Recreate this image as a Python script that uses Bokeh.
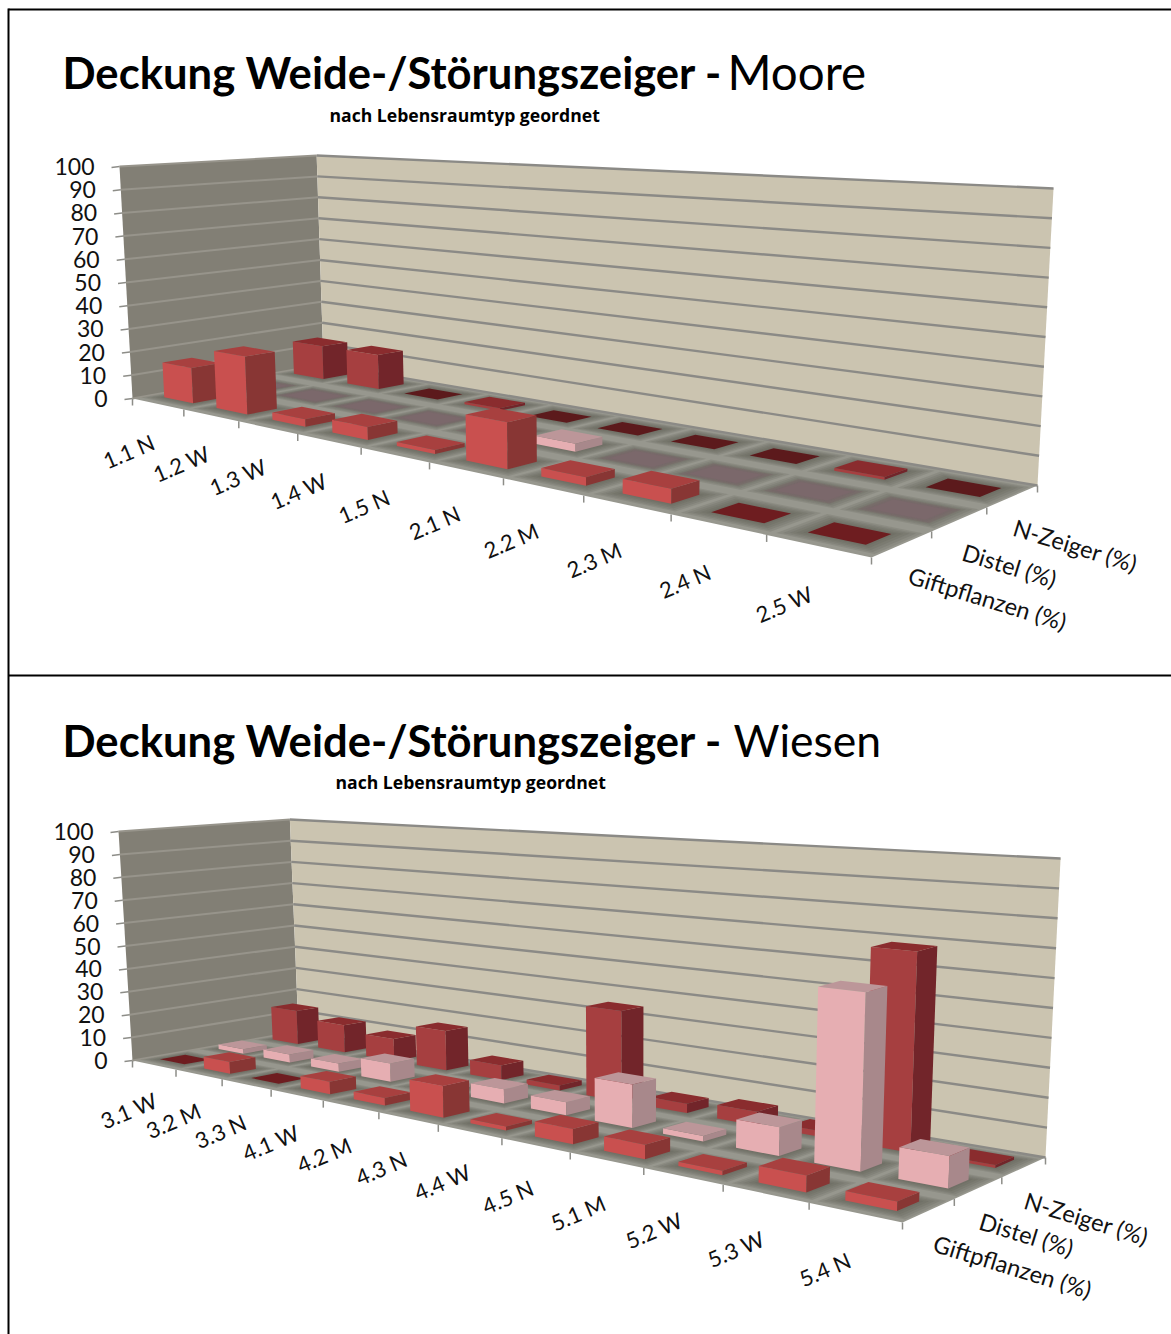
from bokeh.plotting import figure
from bokeh.models import ColumnDataSource
from bokeh.core.properties import value
from bokeh.embed import file_html
from bokeh.resources import INLINE
import math

# Moore
moore_categories = ["1.1 N", "1.2 W", "1.3 W", "1.4 W", "1.5 N", "2.1 N", "2.2 M", "2.3 M", "2.4 N", "2.5 W"]
moore_gift = [15, 24, 3, 5, 1.5, 17, 3, 5, 0, 0]
moore_distel = [0, 0, 0, 0, 0, 3, 0, 0, 0, 0]
moore_nzeiger = [15, 15, 0, 1, 0, 0, 0, 0, 1, 0]

# Wiesen
wiesen_categories = ["3.1 W", "3.2 M", "3.3 N", "4.1 W", "4.2 M", "4.3 N", "4.4 W", "4.5 N", "5.1 M", "5.2 W", "5.3 W", "5.4 N"]
wiesen_gift = [0, 5, 0, 5, 3, 12, 1.5, 5.5, 5, 1.5, 5.5, 3]
wiesen_distel = [2, 3.5, 3.5, 7.5, 2, 5.5, 5, 16, 2, 10, 60, 10.5]
wiesen_nzeiger = [15, 12, 9.5, 16.5, 6, 2, 35, 3.5, 5, 2, 69, 1]

series_labels = ["Giftpflanzen (%)", "Distel (%)", "N-Zeiger (%)"]
value_ticks = [0, 10, 20, 30, 40, 50, 60, 70, 80, 90, 100]

FONT = value("Lato")
FLOOR = "#97978e"
LEFT_WALL = "#827f75"
BACK_WALL = "#cbc4b0"
# (front face, side face, top face, colour of a zero-height footprint)
SERIES_COLORS = [
    ("#c9504f", "#883634", "#a8403f", "#6e1d20"),
    ("#e6aeb2", "#a8888b", "#bc9699", "#7b686b"),
    ("#a63f40", "#72252a", "#8a2c2e", "#5c1a1c"),
]


def reparam(t, r):
    return t / (t * (1 - r) + r)


class Projection:
    """Maps (category position, series position, percent) to page coordinates."""

    def __init__(self, fl, fr, br, bl, ncat, r_front, r_back, r_depth, h_fl, h_bl, h_br, k, xc):
        self.fl, self.fr, self.br, self.bl = fl, fr, br, bl
        self.ncat = ncat
        self.r_front, self.r_back, self.r_depth = r_front, r_back, r_depth
        self.h_fl, self.h_bl, self.h_br = h_fl, h_bl, h_br
        self.h_fr = h_br * h_fl / h_bl
        self.k, self.xc = k, xc

    def __call__(self, u, v, z=0.0):
        f = reparam(max(v, 1e-6) / 3.0, self.r_depth) if v > 0 else v / 3.0 / self.r_depth
        t = u / self.ncat
        sf = reparam(t, self.r_front) if u > 0 else t / self.r_front
        sb = reparam(t, self.r_back) if u > 0 else t / self.r_back
        fx = self.fl[0] + sf * (self.fr[0] - self.fl[0])
        fy = self.fl[1] + sf * (self.fr[1] - self.fl[1])
        bx = self.bl[0] + sb * (self.br[0] - self.bl[0])
        by = self.bl[1] + sb * (self.br[1] - self.bl[1])
        x = fx + f * (bx - fx)
        y = fy + f * (by - fy)
        s = sf + f * (sb - sf)
        hf = self.h_fl + s * (self.h_fr - self.h_fl)
        hb = self.h_bl + s * (self.h_br - self.h_bl)
        h = (hf + f * (hb - hf)) * z / 100.0
        return x + (x - self.xc) * self.k * h, y - h


def footprint(proj, u0, u1, v0, v1, z=0.0):
    pts = [proj(u0, v0, z), proj(u1, v0, z), proj(u1, v1, z), proj(u0, v1, z)]
    return [q[0] for q in pts], [q[1] for q in pts]


class Patches:
    def __init__(self):
        self.xs, self.ys, self.color, self.alpha = [], [], [], []

    def add(self, poly, color, alpha=1.0):
        self.xs.append(poly[0])
        self.ys.append(poly[1])
        self.color.append(color)
        self.alpha.append(alpha)


def draw_chart(p, proj, categories, series, title_y, title_word, word_x, word_size, sub_x, sub_y, label_off, series_pos):
    ncat = len(categories)
    shapes = Patches()
    shapes.add(footprint(proj, 0, ncat, 0, 3), FLOOR)
    shapes.add(([proj(0, 0, 0)[0], proj(0, 3, 0)[0], proj(0, 3, 100)[0], proj(0, 0, 100)[0]],
                [proj(0, 0, 0)[1], proj(0, 3, 0)[1], proj(0, 3, 100)[1], proj(0, 0, 100)[1]]), LEFT_WALL)
    shapes.add(([proj(0, 3, 0)[0], proj(ncat, 3, 0)[0], proj(ncat, 3, 100)[0], proj(0, 3, 100)[0]],
                [proj(0, 3, 0)[1], proj(ncat, 3, 0)[1], proj(ncat, 3, 100)[1], proj(0, 3, 100)[1]]), BACK_WALL)

    gu, gv = 0.22, 0.29
    # Soft darker halo on the floor around every cell's footprint
    for v in range(3):
        for u in range(ncat):
            for grow in (0.19, 0.15, 0.11, 0.07, 0.03):
                shapes.add(footprint(proj, u + gu - grow, u + 1 - gu + grow, v + gv - grow, v + 1 - gv + grow),
                           "#5f5f55", 0.2)

    for v in (2, 1, 0):
        face, side, top, flat = SERIES_COLORS[v]
        for u in range(ncat):
            z = series[v][u]
            u0, u1, v0, v1 = u + gu, u + 1 - gu, v + gv, v + 1 - gv
            if z <= 0:
                if v == 1:
                    for grow in (0.08, 0.05, 0.02):
                        shapes.add(footprint(proj, u0 - grow, u1 + grow, v0 - grow, v1 + grow), flat, 0.45)
                shapes.add(footprint(proj, u0, u1, v0, v1), flat)
                continue
            a, b = proj(u0, v0, 0), proj(u1, v0, 0)
            c, d = proj(u1, v0, z), proj(u0, v0, z)
            shapes.add(([a[0], b[0], c[0], d[0]], [a[1], b[1], c[1], d[1]]), face)
            a, b = proj(u1, v0, 0), proj(u1, v1, 0)
            c, d = proj(u1, v1, z), proj(u1, v0, z)
            shapes.add(([a[0], b[0], c[0], d[0]], [a[1], b[1], c[1], d[1]]), side)
            shapes.add(footprint(proj, u0, u1, v0, v1, z), top)

    # Walls and floor come first, gridlines are drawn over the walls, bars over the gridlines
    n_base = 3
    base = ColumnDataSource(dict(xs=shapes.xs[:n_base], ys=shapes.ys[:n_base], c=shapes.color[:n_base]))
    p.patches("xs", "ys", source=base, fill_color="c", line_color=None)

    back_x, back_y, left_x, left_y = [], [], [], []
    for z in value_ticks:
        a, b, c = proj(0, 0, z), proj(0, 3, z), proj(ncat, 3, z)
        left_x.append([a[0], b[0]])
        left_y.append([a[1], b[1]])
        back_x.append([b[0], c[0]])
        back_y.append([b[1], c[1]])
    p.multi_line(left_x, left_y, line_color="#97948b", line_width=2)
    p.multi_line(back_x, back_y, line_color="#8b8a86", line_width=2.4)

    rest = ColumnDataSource(dict(xs=shapes.xs[n_base:], ys=shapes.ys[n_base:],
                                 c=shapes.color[n_base:], al=shapes.alpha[n_base:]))
    p.patches("xs", "ys", source=rest, fill_color="c", fill_alpha="al", line_color=None)

    # Tick marks
    tx, ty = [], []
    for z in value_ticks:
        a = proj(0, 0, z)
        tx.append([a[0] - 8, a[0]])
        ty.append([a[1] + 1, a[1]])
    for u in range(ncat + 1):
        a = proj(u, 0, 0)
        tx.append([a[0], a[0]])
        ty.append([a[1], a[1] + 7])
    for v in range(1, 4):
        a = proj(ncat, v, 0)
        tx.append([a[0], a[0]])
        ty.append([a[1], a[1] + 7])
    p.multi_line(tx, ty, line_color="#8d8d88", line_width=1.5)

    # Percent scale
    vx = [proj(0, 0, z)[0] - 25 for z in value_ticks]
    vy = [proj(0, 0, z)[1] for z in value_ticks]
    p.text(vx, vy, text=[str(z) for z in value_ticks], text_font=FONT, text_font_size="23px",
           text_color="#111111", text_align="right", text_baseline="middle")

    # Category labels
    cx, cy = [], []
    for u in range(ncat):
        a = proj(u + 0.5, 0, 0)
        grow = (a[0] - proj(0, 0, 0)[0]) / 740.0
        cx.append(a[0] + label_off[0] + label_off[2] * grow)
        cy.append(a[1] + label_off[1] + label_off[3] * grow)
    p.text(cx, cy, text=categories, text_font=FONT, text_font_size="22px", text_color="#111111",
           text_align="center", text_baseline="middle", angle=math.radians(23))

    # Series labels
    p.text([q[0] for q in series_pos], [q[1] for q in series_pos], text=series_labels, text_font=FONT,
           text_font_size="23.5px", text_color="#111111", text_align="center", text_baseline="middle",
           angle=math.radians(-17))

    # Headings
    p.text([62], [title_y], text=["Deckung Weide-/Störungszeiger -"], text_font=FONT, text_font_style="bold",
           text_font_size="43.6px", text_color="#000000", text_baseline="middle")
    p.text([word_x], [title_y], text=[title_word], text_font=FONT, text_font_size=word_size,
           text_color="#000000", text_baseline="middle")
    p.text([sub_x], [sub_y], text=["nach Lebensraumtyp geordnet"], text_font=value("Open Sans"),
           text_font_style="bold", text_font_size="17.6px", text_color="#000000", text_baseline="middle")


p = figure(width=1171, height=1334, x_range=(0, 1171), y_range=(1334, 0), output_backend="svg",
           toolbar_location=None, min_border=0, outline_line_color=None, background_fill_color="#ffffff")
p.xaxis.visible = False
p.yaxis.visible = False
p.xgrid.visible = False
p.ygrid.visible = False

proj_moore = Projection((132, 398), (871, 557), (1037, 485), (323, 364), len(moore_categories),
                        1.488, 1.38, 0.88, 232, 209, 297, 0.0001215, 593)
draw_chart(p, proj_moore, moore_categories, [moore_gift, moore_distel, moore_nzeiger],
           71, "Moore", 727, "47.5px", 329, 114, (-29, 47, -5, 12),
           [(987, 598), (1009, 565), (1075, 545)])

proj_wiesen = Projection((132, 1060), (902, 1222), (1045, 1157), (298, 1031), len(wiesen_categories),
                         1.518, 1.40, 0.88, 229, 212, 299, 0.000122, 632)
draw_chart(p, proj_wiesen, wiesen_categories, [wiesen_gift, wiesen_distel, wiesen_nzeiger],
           739, "Wiesen", 733, "44.5px", 335, 781, (-25, 45, -5, 12),
           [(1012, 1266), (1026, 1234), (1086, 1218)])

# Frames round the two panels
p.multi_line([[8, 8], [8, 1171], [8, 1171]], [[8, 1334], [9, 9], [675, 675]], line_color="#000000", line_width=2)

open("out.html", "w").write(file_html(p, INLINE))
